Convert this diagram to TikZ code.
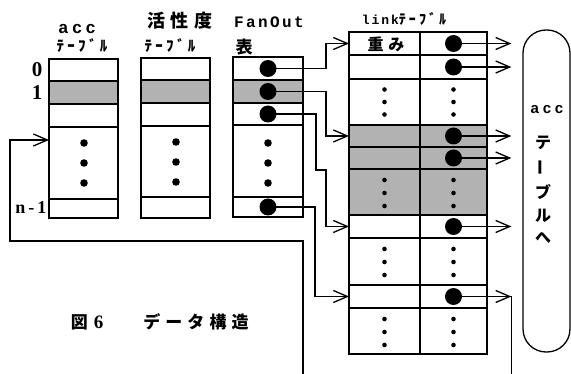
\documentclass[tikz,border=0pt]{standalone}
\usepackage{fontspec}
\setmainfont{Liberation Serif}
\newfontfamily\jp{Noto Sans CJK JP}
\newfontfamily\jpls{Noto Sans CJK JP}[LetterSpace=30]
\newfontfamily\jphw{Noto Sans CJK JP}[LetterSpace=22]
\newfontfamily\monols{Liberation Mono}[LetterSpace=15]
\newfontfamily\sansls{Liberation Sans}[LetterSpace=25]
\usetikzlibrary{arrows.meta,calc}
\newcommand\mkcell[6][]{%
  \pgfmathsetmacro\mkcw{#5-#3}\pgfmathsetmacro\mkch{#6-#4}%
  \pgfmathsetmacro\mkcx{(#3+#5)/2}\pgfmathsetmacro\mkcy{(#4+#6)/2}%
  \node[cellbox,#1,minimum width=\mkcw pt,minimum height=\mkch pt] (#2) at (\mkcx,\mkcy) {};}
\newcommand\vdts[4]{\foreach \k in {-1,0,1} {\fill (#1,{#2+\k*#3}) circle (#4pt);}}
\begin{document}
\begin{tikzpicture}[x=1pt,y=-1pt,
  tbl/.style={draw,line width=1.8pt},
  cellbox/.style={draw,line width=1.2pt,inner sep=0pt,outer sep=0pt},
  shaded/.style={fill=black!30},
  bigdot/.style={circle,fill=black,inner sep=0pt,minimum size=17pt},
  conn/.style={line width=1.2pt},
  arr/.style={conn,-{Straight Barb[length=14pt,width=12pt,line width=1.3pt]}},
  lbl/.style={inner sep=0pt}]
\useasboundingbox (0,0) rectangle (571,374);

% acc table
\mkcell{a0}{49}{59}{118}{81}
\mkcell[shaded]{a1}{49}{81}{118}{104}
\mkcell{a2}{49}{104}{118}{127}
\mkcell{a3}{49}{127}{118}{199}
\mkcell{a4}{49}{199}{118}{218}
\draw[tbl] (a0.north west) rectangle (a4.south east);
\vdts{84}{163}{20}{3.8}

% activity table
\mkcell{k0}{141}{58}{210}{80}
\mkcell[shaded]{k1}{141}{80}{210}{103}
\mkcell{k2}{141}{103}{210}{126}
\mkcell{k3}{141}{126}{210}{197}
\mkcell{k4}{141}{197}{210}{218}
\draw[tbl] (k0.north west) rectangle (k4.south east);
\vdts{176}{162}{20}{3.8}

% FanOut table
\mkcell{f0}{233}{57}{303}{80}
\mkcell[shaded]{f1c}{233}{80}{303}{103}
\mkcell{f2c}{233}{103}{303}{125}
\mkcell{f3c}{233}{125}{303}{197}
\mkcell{f4c}{233}{197}{303}{217}
\draw[tbl] (f0.north west) rectangle (f4c.south east);
\vdts{268}{163}{20}{3.8}
\node[bigdot] (f1) at (f0.center) {};
\node[bigdot] (f2) at (f1c.center) {};
\node[bigdot] (f3) at (f2c.center) {};
\node[bigdot] (f4) at (f4c.center) {};

% link table
\mkcell{l0}{349}{32}{420}{55}
\mkcell{r0}{420}{32}{487}{55}
\mkcell{l1}{349}{55}{420}{79}
\mkcell{r1}{420}{55}{487}{79}
\mkcell{l2}{349}{79}{420}{125}
\mkcell{r2}{420}{79}{487}{125}
\mkcell[shaded]{l3}{349}{125}{420}{147}
\mkcell[shaded]{r3}{420}{125}{487}{147}
\mkcell[shaded]{l4}{349}{147}{420}{169}
\mkcell[shaded]{r4}{420}{147}{487}{169}
\mkcell[shaded]{l5}{349}{169}{420}{215}
\mkcell[shaded]{r5}{420}{169}{487}{215}
\mkcell{l6}{349}{215}{420}{238}
\mkcell{r6}{420}{215}{487}{238}
\mkcell{l7}{349}{238}{420}{285}
\mkcell{r7}{420}{238}{487}{285}
\mkcell{l8}{349}{285}{420}{308}
\mkcell{r8}{420}{285}{487}{308}
\mkcell{l9}{349}{308}{420}{354}
\mkcell{r9}{420}{308}{487}{354}
\draw[tbl] (l0.north west) rectangle (r9.south east);
\draw[line width=1.5pt] (l0.north east) -- (l9.south east);
\vdts{384.5}{102}{12.5}{2.3}
\vdts{453.5}{102}{12.5}{2.3}
\vdts{384.5}{193}{13}{2.3}
\vdts{453.5}{193}{13}{2.3}
\vdts{384.5}{262}{13}{2.3}
\vdts{453.5}{262}{13}{2.3}
\vdts{384.5}{332}{13}{2.3}
\vdts{453.5}{332}{13}{2.3}
\foreach \i in {0,1,3,4,6,8} {\node[bigdot] (d\i) at (r\i.center) {};}

% destination (acc table)
\node[draw,line width=1.3pt,rounded corners=23pt,minimum width=47pt,minimum height=322pt,inner sep=0pt] (dest) at (546.5,191) {};
\node[lbl,font=\sansls\bfseries\fontsize{15}{15}\selectfont] (dacc) at (547,110) {acc};
\node[lbl,font=\jp\bfseries\fontsize{16}{16}\selectfont] (dt1) at (543,143) {テ};
\node[lbl,font=\jp\bfseries\fontsize{16}{16}\selectfont,rotate=90] (dt2) at (543,168) {ー};
\node[lbl,font=\jp\bfseries\fontsize{16}{16}\selectfont] (dt3) at (543,192) {ブ};
\node[lbl,font=\jp\bfseries\fontsize{16}{16}\selectfont] (dt4) at (543,216) {ル};
\node[lbl,font=\jp\bfseries\fontsize{16}{16}\selectfont] (dt5) at (543,238) {へ};

% headings
\node[lbl,font=\sansls\bfseries\fontsize{17}{17}\selectfont] (h1) at (77,29) {acc};
\node[lbl,font=\jphw\bfseries\fontsize{15}{15}\selectfont] (h2) at (82,46) {ﾃｰﾌﾞﾙ};
\node[lbl,font=\jpls\bfseries\fontsize{18}{18}\selectfont] (h3) at (180,21) {活性度};
\node[lbl,font=\jphw\bfseries\fontsize{15}{15}\selectfont] (h4) at (170,46) {ﾃｰﾌﾞﾙ};
\node[lbl,font=\monols\bfseries\fontsize{16}{16}\selectfont] (h5) at (269,22) {FanOut};
\node[lbl,font=\jp\bfseries\fontsize{17}{17}\selectfont] (h6) at (244,47) {表};
\node[lbl] (h7) at (404,19) {{\monols\bfseries\fontsize{13}{13}\selectfont link}{\jphw\bfseries\fontsize{14}{14}\selectfont ﾃｰﾌﾞﾙ}};
\node[lbl,font=\jpls\bfseries\fontsize{16}{16}\selectfont] (h9) at (386,44) {重み};
\node[lbl,font=\bfseries\fontsize{21}{21}\selectfont] (i0) at (37,70) {0};
\node[lbl,font=\bfseries\fontsize{21}{21}\selectfont] (i1) at (37,93) {1};
\node[lbl,font=\bfseries\fontsize{18}{18}\selectfont] (in) at (31,208) {n\,-\,1};

% caption
\node[lbl,font=\jp\bfseries\fontsize{17}{17}\selectfont] (cap1) at (87,322) {図\hspace{6pt}{\rmfamily\bfseries\fontsize{19}{19}\selectfont 6}};
\node[lbl,font=\jpls\bfseries\fontsize{17}{17}\selectfont] (cap2) at (196,322) {データ構造};

% FanOut -> link
\draw[arr] (f1.center) -| ([xshift=-23pt]l0.west) -- (l0.west);
\draw[arr] (f2.center) -| ([xshift=-23pt]l3.west) -- (l3.west);
\coordinate (b3a) at (316,170);
\coordinate (b3b) at (326,170);
\draw[arr] (f3.center) -| (b3a) -- (b3b) |- (l6.west);
\draw[arr] (f4.center) -| ([xshift=-34pt]l8.west) -- (l8.west);

% link -> destination
\foreach \i in {0,1,3,4,6} {\draw[arr] (d\i.center) -- ($(d\i.center -| dest.west)+(-11,0)$);}
\coordinate (bot) at (0,374);
\draw[arr] (d8.center) -- ($(d8.center -| dest.west)+(-11,0)$) coordinate (e8);
\draw[conn] (e8) -- (e8 |- bot);

% loop back into acc table
\coordinate (lpend) at (303,374);
\coordinate (lp) at (10,241);
\draw[arr] (lpend) |- (lp) |- ([yshift=23pt]a3.west);
\end{tikzpicture}
\end{document}
